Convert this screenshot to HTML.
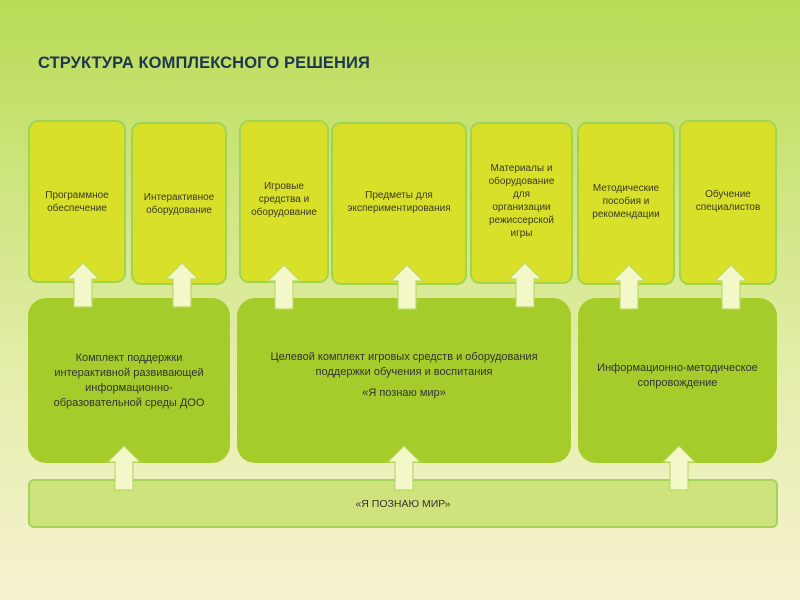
<!DOCTYPE html>
<html><head><meta charset="utf-8"><style>
*{margin:0;padding:0;box-sizing:border-box}
body{width:800px;height:600px;overflow:hidden;position:relative;font-family:"Liberation Sans","DejaVu Sans",sans-serif;
background:linear-gradient(180deg,#b9db55 0%,#cde57e 30%,#e6eeae 65%,#f6f2cf 100%);}
.t{position:absolute;left:38px;top:54px;font-size:16.5px;font-weight:bold;color:#1f3550;letter-spacing:0.1px}
.b{position:absolute;display:flex;align-items:center;justify-content:center;text-align:center;color:#3a3a20;}
.top{background:#d9e02a;border:2px solid #9fd452;border-radius:10px;font-size:10px;line-height:13px}
.mid{background:#a5cc2a;border-radius:18px;font-size:11px;line-height:15px;color:#333}
.bot{background:#cfe37c;border:2px solid #a3d35c;border-radius:6px;font-size:10.5px;color:#333}
svg{position:absolute;left:0;top:0}
</style></head><body>
<div class="t">СТРУКТУРА КОМПЛЕКСНОГО РЕШЕНИЯ</div>
<div class="b top" style="left:28px;top:120px;width:98px;height:163px">Программное<br>обеспечение</div>
<div class="b top" style="left:131px;top:122px;width:96px;height:163px">Интерактивное<br>оборудование</div>
<div class="b top" style="left:239px;top:120px;width:90px;height:163px;padding-bottom:4px">Игровые<br>средства и<br>оборудование</div>
<div class="b top" style="left:331px;top:122px;width:136px;height:163px;padding-bottom:4px">Предметы для<br>экспериментирования</div>
<div class="b top" style="left:470px;top:122px;width:103px;height:162px;padding-bottom:4px">Материалы и<br>оборудование<br>для<br>организации<br>режиссерской<br>игры</div>
<div class="b top" style="left:577px;top:122px;width:98px;height:163px;padding-bottom:4px">Методические<br>пособия и<br>рекомендации</div>
<div class="b top" style="left:679px;top:120px;width:98px;height:165px;padding-bottom:4px">Обучение<br>специалистов</div>
<div class="b mid" style="left:28px;top:298px;width:202px;height:165px">Комплект поддержки<br>интерактивной развивающей<br>информационно-<br>образовательной среды ДОО</div>
<div class="b mid" style="left:237px;top:298px;width:334px;height:165px;flex-direction:column;padding-bottom:10px">Целевой комплект игровых средств и оборудования<br>поддержки обучения и воспитания<div style="margin-top:6px">«Я познаю мир»</div></div>
<div class="b mid" style="left:578px;top:298px;width:199px;height:165px;padding-bottom:10px">Информационно-методическое<br>сопровождение</div>
<div class="b bot" style="left:28px;top:479px;width:750px;height:49px">«Я ПОЗНАЮ МИР»</div>
<svg width="800" height="600">
<defs><g id="a"><path d="M-9,44 L-9,16 L-16,16 L0,0 L16,16 L9,16 L9,44 Z" fill="#f4f8c8" stroke="#b9d96a" stroke-width="1.2"/></g></defs>
<use href="#a" x="83" y="263"/><use href="#a" x="182" y="263"/><use href="#a" x="284" y="265"/>
<use href="#a" x="407" y="265"/><use href="#a" x="525" y="263"/><use href="#a" x="629" y="265"/><use href="#a" x="731" y="265"/>
<use href="#a" x="124" y="446"/><use href="#a" x="404" y="446"/><use href="#a" x="679" y="446"/>
</svg>
</body></html>
